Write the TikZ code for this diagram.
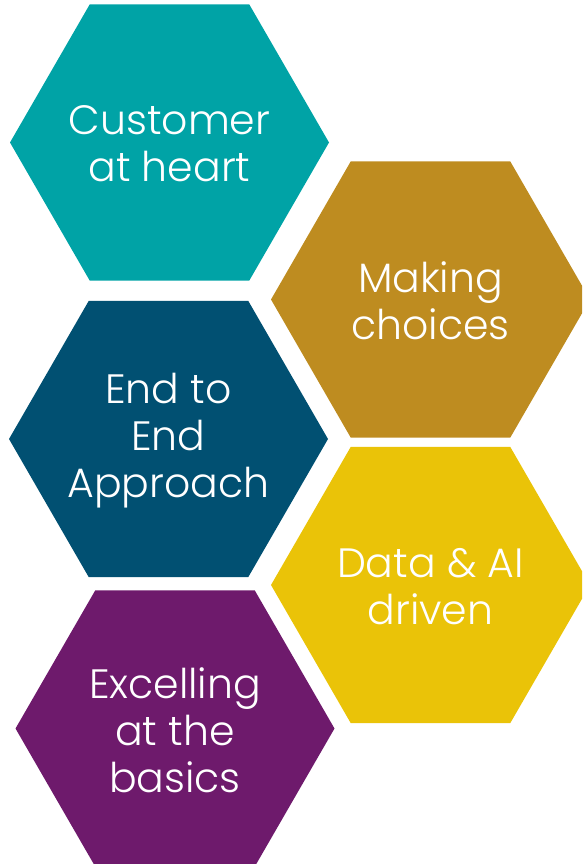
\documentclass[tikz,border=0pt]{standalone}
\usepackage{fontspec}
\setmainfont{Poppins Light}
\usetikzlibrary{shapes.geometric}
\definecolor{hexteal}{RGB}{0,163,166}
\definecolor{hexgold}{RGB}{190,140,32}
\definecolor{hexnavy}{RGB}{1,80,114}
\definecolor{hexyellow}{RGB}{234,195,8}
\definecolor{hexplum}{RGB}{110,26,108}
\begin{document}
\begin{tikzpicture}[x=1pt,y=-1pt,
  hex/.style={regular polygon, regular polygon sides=6, minimum size=319pt,
    inner sep=0pt, outer sep=0pt, draw=none},
  lbl/.style={text=white, align=center, inner sep=0pt,
    font=\fontsize{41}{47}\selectfont}]
  \useasboundingbox (0,0) rectangle (582,864);
  \clip (0,0) rectangle (582,864);
  \node[hex, fill=hexteal]   (h1) at (169.5,142.5) {};
  \node[hex, fill=hexgold]   (h2) at (430.5,299.5) {};
  \node[hex, fill=hexnavy]   (h3) at (168.5,439) {};
  \node[hex, fill=hexyellow] (h4) at (430.5,585) {};
  \node[hex, fill=hexplum]   (h5) at (175,728.5) {};
  \node[lbl] (t1) at ([yshift=-1.5pt]h1) {Customer\\at heart};
  \node[lbl] (t2) at ([yshift=-1.5pt]h2) {Making\\choices};
  \node[lbl] (t3) at ([yshift=-1.5pt]h3) {End to\\End\\Approach};
  \node[lbl] (t4) at ([yshift=-1.5pt]h4) {Data \& AI\\driven};
  \node[lbl] (t5) at ([yshift=-1.5pt]h5) {Excelling\\at the\\basics};
\end{tikzpicture}
\end{document}
